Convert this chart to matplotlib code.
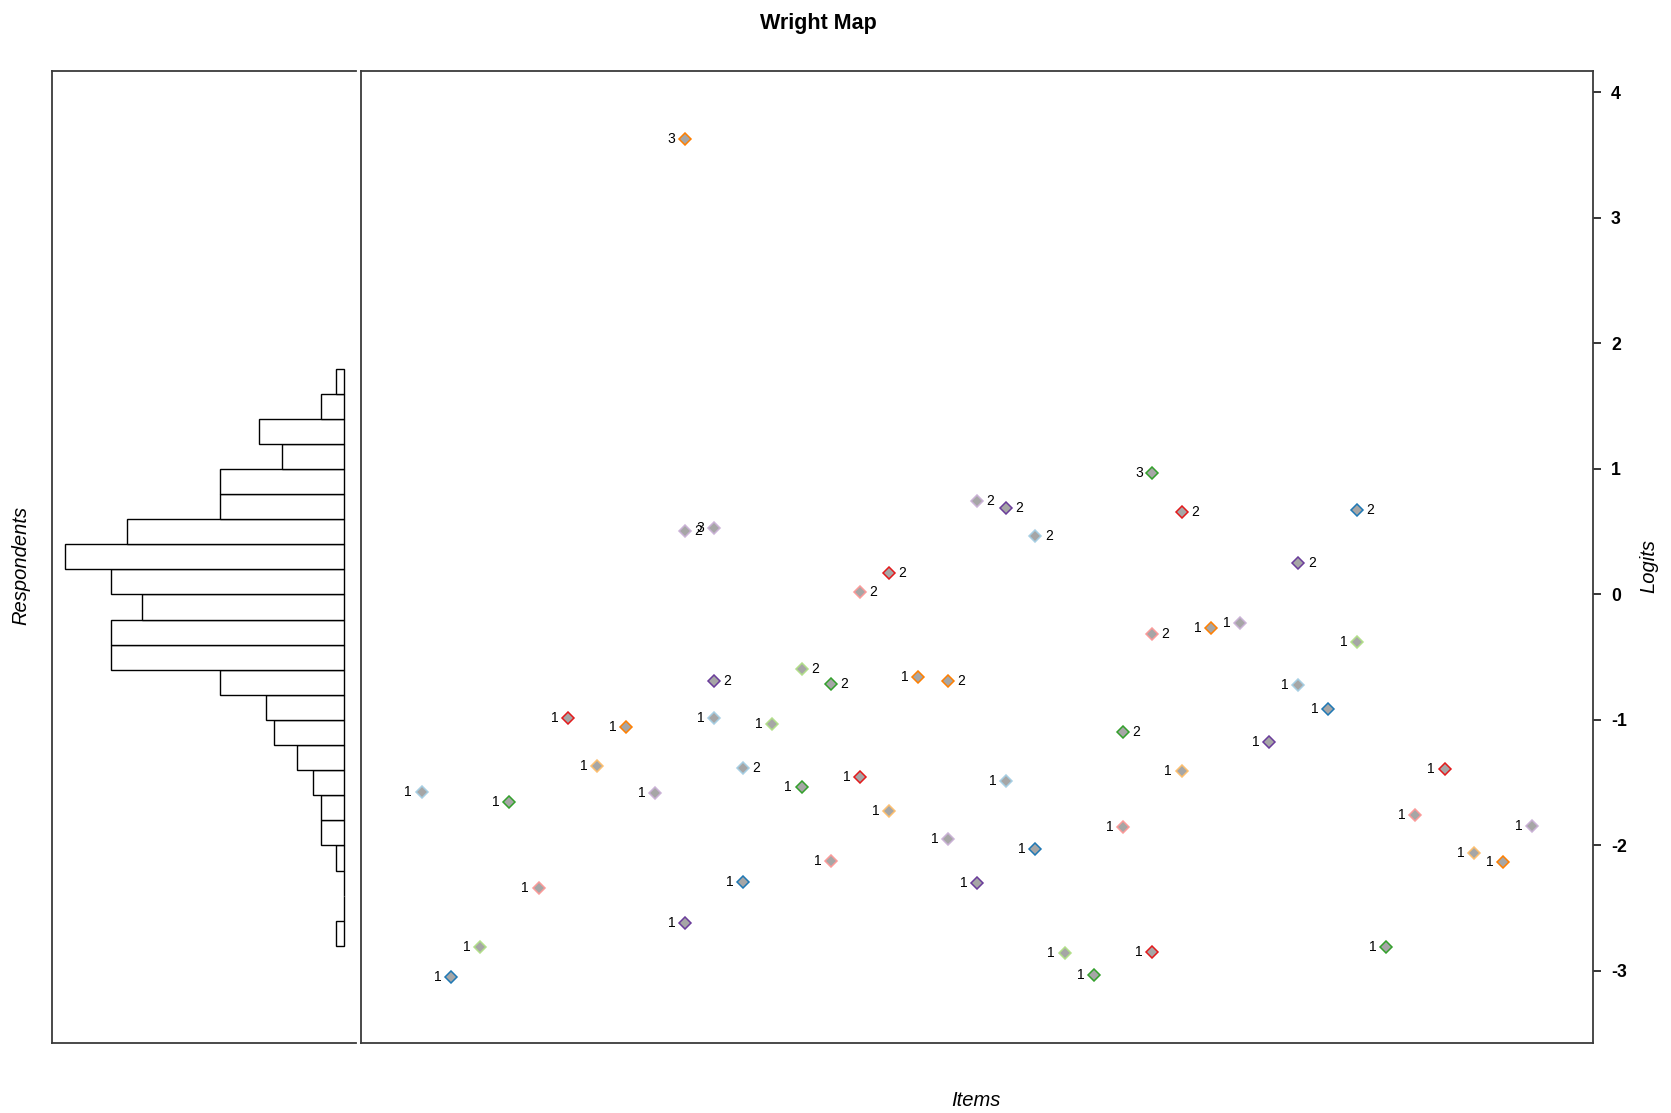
import numpy as np
import matplotlib.pyplot as plt

plt.rcParams['font.family'] = ['Liberation Sans', 'DejaVu Sans']

# item thresholds (logits), one list per threshold level, item 1..39
thr1 = [-1.576, -3.045, -2.806, -1.656, -2.341, -0.987, -1.364, -1.053, -1.579, -2.615,
        -0.987, -2.288, -1.032, -1.531, -2.124, -1.452, -1.723, -0.655, -1.951, -2.301,
        -1.484, -2.030, -2.859, -3.032, -1.855, -2.851, -1.404, -0.264, -0.225, -1.173,
        -0.721, -0.915, -0.376, -2.806, -1.757, -1.390, -2.057, -2.129, -1.845]
thr2 = {10: 0.508, 11: -0.689, 12: -1.385, 14: -0.594, 15: -0.713, 16: 0.022,
        17: 0.169, 19: -0.689, 20: 0.745, 21: 0.692, 22: 0.466, 25: -1.098,
        26: -0.317, 27: 0.660, 31: 0.249, 33: 0.673}
thr3 = {10: 3.627, 11: 0.532, 26: 0.971}

# respondent histogram: lower bin edges and counts
bin_lo = [-2.8, -2.6, -2.4, -2.2, -2.0, -1.8, -1.6, -1.4, -1.2, -1.0, -0.8, -0.6,
          -0.4, -0.2, 0.0, 0.2, 0.4, 0.6, 0.8, 1.0, 1.2, 1.4, 1.6]
counts = [1, 0, 0, 1, 3, 3, 4, 6, 9, 10, 16, 30, 30, 26, 30, 36, 28, 16, 16, 8, 11, 3, 1]

ticks = [-3, -2, -1, 0, 1, 2, 3, 4]

paired = ['#A6CEE3', '#1F78B4', '#B2DF8A', '#33A02C', '#FB9A99',
          '#E31A1C', '#FDBF6F', '#FF7F00', '#CAB2D6', '#6A3D9A']
n_items = len(thr1)
ylim = (-3.574, 4.171)
frame_col = '#3a3a3a'

fig = plt.figure(figsize=(16.71, 11.13), dpi=100)
ax_h = fig.add_axes([0.0311, 0.0629, 0.1819, 0.8733])
ax = fig.add_axes([0.2160, 0.0629, 0.7373, 0.8733])

# histogram panel
ax_h.barh(bin_lo, counts, height=0.2, align='edge', color='white',
          edgecolor='black', linewidth=1.0)
ax_h.set_xlim(37.68, -1.55)
ax_h.set_ylim(*ylim)
ax_h.set_xticks([])
ax_h.set_yticks([])
ax_h.spines['right'].set_visible(False)
for s in ['left', 'top', 'bottom']:
    ax_h.spines[s].set_color(frame_col)
    ax_h.spines[s].set_linewidth(1.3)

# items panel
levels = [dict(enumerate(thr1, start=1)), thr2, thr3]
for k, lev in enumerate(levels):
    side = -1 if k % 2 == 0 else 1
    for item, val in lev.items():
        col = paired[(k * n_items + item - 1) % 10]
        ax.plot(item, val, marker='D', markersize=6.0, markerfacecolor='#A6A6A6',
                markeredgecolor=col, markeredgewidth=1.1, linestyle='none')
        ax.annotate(str(k + 1), (item, val), xytext=(side * 9.6, 0),
                    textcoords='offset points', ha='center', va='center',
                    fontsize=10, color='black')

ax.set_xlim(-1.077, 41.077)
ax.set_ylim(*ylim)
ax.set_xticks([])
ax.yaxis.tick_right()
ax.set_yticks(ticks)
ax.set_yticklabels([str(t) for t in ticks], fontweight='bold', fontsize=12.7)
ax.tick_params(axis='y', length=6, width=1.1, pad=7, direction='out', colors='black')
for s in ax.spines.values():
    s.set_color(frame_col)
    s.set_linewidth(1.3)

fig.text(818 / 1671, 1 - 24 / 1113, 'Wright Map', ha='center', va='center',
         fontsize=15.5, fontweight='bold')
fig.text(976 / 1671, 1 - 1100 / 1113, 'Items', ha='center', va='center',
         fontsize=14.5, style='italic')
fig.text(21 / 1671, 1 - 565 / 1113, 'Respondents', ha='center', va='center',
         fontsize=14.5, style='italic', rotation=90)
fig.text(1649 / 1671, 1 - 566 / 1113, 'Logits', ha='center', va='center',
         fontsize=14.5, style='italic', rotation=90)

fig.savefig('out.png', dpi=100)
